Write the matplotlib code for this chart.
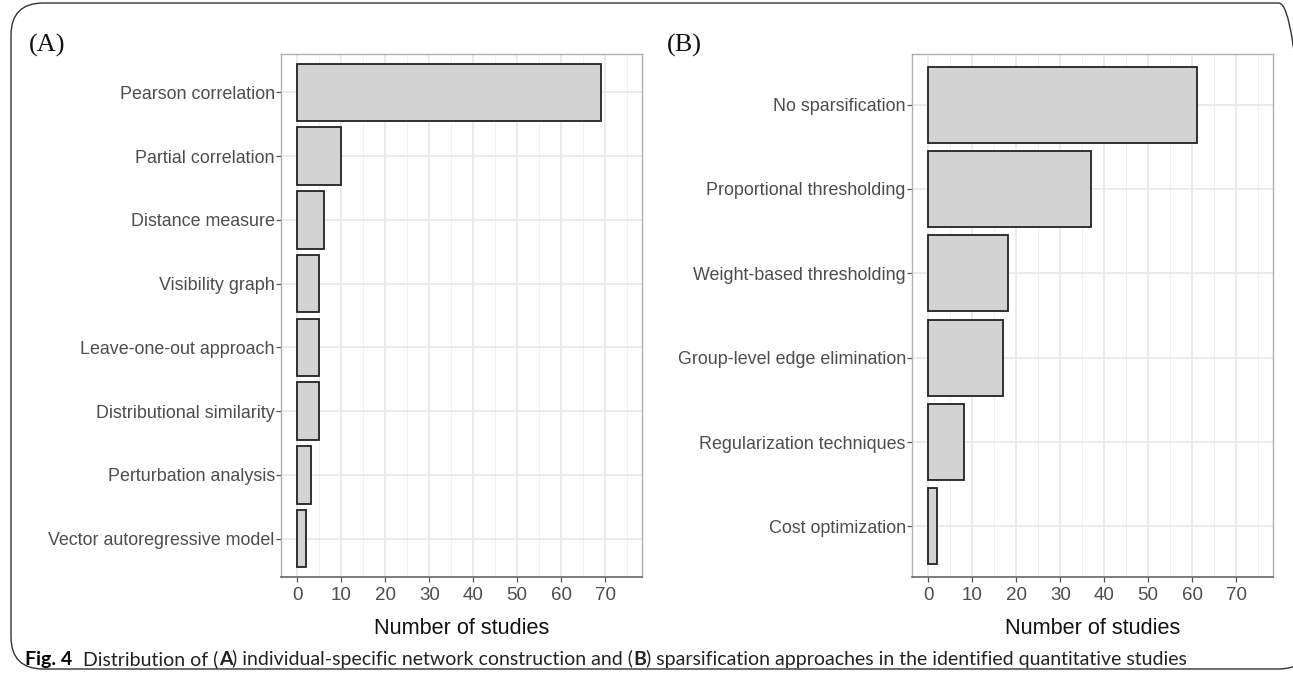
import matplotlib
matplotlib.use("Agg")
import matplotlib.pyplot as plt
from matplotlib.patches import FancyBboxPatch

# Panel A: individual-specific network construction
methods_a = ["Pearson correlation", "Partial correlation", "Distance measure",
             "Visibility graph", "Leave-one-out approach", "Distributional similarity",
             "Perturbation analysis", "Vector autoregressive model"]
counts_a = [69, 10, 6, 5, 5, 5, 3, 2]

# Panel B: sparsification approaches
methods_b = ["No sparsification", "Proportional thresholding", "Weight-based thresholding",
             "Group-level edge elimination", "Regularization techniques", "Cost optimization"]
counts_b = [61, 37, 18, 17, 8, 2]

xticks = [0, 10, 20, 30, 40, 50, 60, 70]

W, H = 1293, 679
fig = plt.figure(figsize=(W / 100, H / 100), dpi=100)
plt.rcParams['font.family'] = ['Liberation Sans', 'DejaVu Sans']

# rounded outer frame
frame = FancyBboxPatch((11 / W, 10 / H), 1300 / W, 666 / H,
                       boxstyle="round,pad=0,rounding_size=0.025",
                       transform=fig.transFigure, fill=False,
                       edgecolor="#333333", linewidth=1.0, mutation_aspect=W / H)
fig.add_artist(frame)


def panel(rect, labels, values):
    ax = fig.add_axes(rect)
    n = len(labels)
    pos = list(range(n))
    ax.barh(pos, values, height=0.9, color="#d3d3d3", edgecolor="#222222",
            linewidth=1.3, zorder=3)
    ax.set_ylim(n - 1 + 0.6, -0.6)
    ax.set_xlim(-3.75, 78.4)
    ax.set_yticks(pos)
    ax.set_yticklabels(labels, fontsize=12.9, color="#4d4d4d")
    ax.set_xticks(xticks)
    ax.set_xticklabels([str(t) for t in xticks], fontsize=13.5, color="#4d4d4d")
    ax.set_xticks([t + 5 for t in xticks], minor=True)
    ax.grid(True, which="major", color="#e6e6e6", linewidth=1.1, zorder=0)
    ax.grid(True, which="minor", axis="x", color="#f0f0f0", linewidth=0.7, zorder=0)
    ax.tick_params(axis="both", which="major", length=3.5, width=0.9, color="#555555")
    ax.tick_params(axis="x", which="minor", length=0)
    ax.tick_params(axis="y", pad=1)
    ax.tick_params(axis="x", pad=4)
    for side in ["top", "right", "left"]:
        ax.spines[side].set_color("#b0b0b0")
        ax.spines[side].set_linewidth(1.0)
    ax.spines["bottom"].set_color("#666666")
    ax.spines["bottom"].set_linewidth(1.2)
    ax.set_xlabel("Number of studies", fontsize=15.6, color="#111111", labelpad=10)
    return ax


ax_h = (577 - 54) / H
ax_y = 1 - 577 / H
panel([281 / W, ax_y, 361 / W, ax_h], methods_a, counts_a)
panel([912 / W, ax_y, 361 / W, ax_h], methods_b, counts_b)

fig.text(29 / W, 1 - 52 / H, "(A)", fontsize=19, family="Liberation Serif", color="#111111")
fig.text(667 / W, 1 - 52 / H, "(B)", fontsize=19, family="Liberation Serif", color="#111111")

# caption
cap_y = 1 - 665 / H
cap_fs = 14
t1 = fig.text(25 / W, cap_y, "Fig. 4", fontsize=cap_fs, family="Lato", weight="bold")
fig.canvas.draw()
bb = t1.get_window_extent()
x = bb.x1 + 11
parts = [("Distribution of (", "normal"), ("A", "bold"),
         (") individual-specific network construction and (", "normal"), ("B", "bold"),
         (") sparsification approaches in the identified quantitative studies", "normal")]
for s, w in parts:
    t = fig.text(x / W, cap_y, s, fontsize=cap_fs, family="Lato", weight=w, color="#222222")
    fig.canvas.draw()
    x = t.get_window_extent().x1

fig.savefig("out.png", dpi=100)
